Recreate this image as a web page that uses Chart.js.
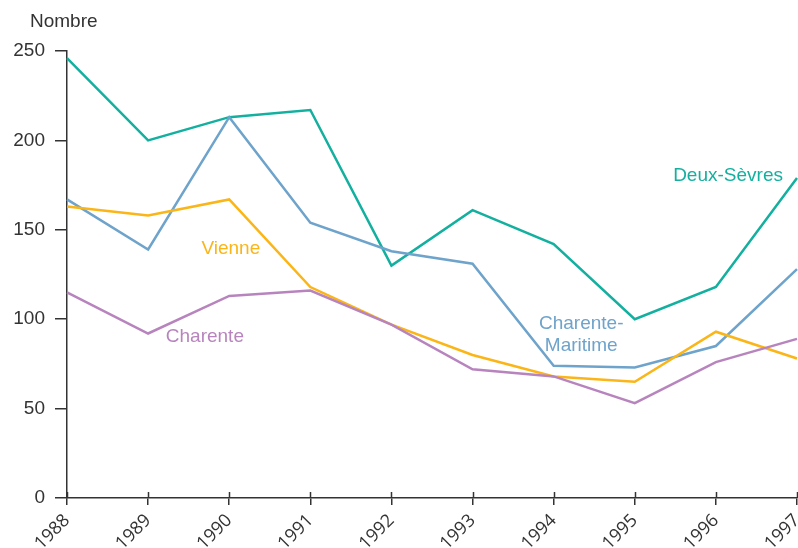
<!DOCTYPE html>
<html>
<head>
<meta charset="utf-8">
<script src="https://cdn.jsdelivr.net/npm/chart.js"></script>
<style>
  html, body { margin: 0; padding: 0; background: #fff; }
  #wrap { width: 798px; height: 548px; }
</style>
</head>
<body>
<div id="wrap"><canvas id="chart" width="798" height="548"></canvas></div>
<script>
// ===== Données =====
const years = ['1988','1989','1990','1991','1992','1993','1994','1995','1996','1997'];
const deuxSevres = [246, 200, 213, 217, 130, 161, 142, 100, 118, 179];
const charenteMaritime = [167, 139, 213, 154, 138, 131, 74, 73, 85, 128];
const vienne = [163, 158, 167, 118, 97, 80, 68, 65, 93, 78];
const charente = [115, 92, 113, 116, 97, 72, 68, 53, 76, 89];
const yTicks = [0, 50, 100, 150, 200, 250];

const COLORS = {
  deuxSevres: '#14b09f',
  charenteMaritime: '#6ea3cb',
  vienne: '#fbb517',
  charente: '#b884be'
};
const TEXT = '#333333';
const FONT = '"Liberation Sans", Arial, sans-serif';
const FONT_X = '"Open Sans", sans-serif';

// étiquettes de séries (position en coordonnées de données : index d'année, valeur)
const seriesLabels = [
  { lines: ['Deux-Sèvres'], color: COLORS.deuxSevres, at: 8.15, val: 180.5 },
  { lines: ['Charente-', 'Maritime'], color: COLORS.charenteMaritime, at: 6.34, val: 97.5 },
  { lines: ['Vienne'], color: COLORS.vienne, at: 2.02, val: 139.3 },
  { lines: ['Charente'], color: COLORS.charente, at: 1.70, val: 90 }
];

const labelsPlugin = {
  id: 'labelsPlugin',
  afterDraw(chart){
    const { ctx, scales: { x, y } } = chart;
    ctx.save();
    // petites marques au-dessus de l'axe des x
    ctx.strokeStyle = TEXT;
    ctx.lineWidth = 1.5;
    years.forEach((_, i) => {
      const px = Math.round(x.getPixelForValue(i)) + 0.5;
      ctx.beginPath();
      ctx.moveTo(px, y.bottom);
      ctx.lineTo(px, y.bottom - 6);
      ctx.stroke();
    });
    // titre de l'axe
    ctx.fillStyle = TEXT;
    ctx.font = '19px ' + FONT;
    ctx.textAlign = 'left';
    ctx.textBaseline = 'middle';
    ctx.fillText('Nombre', 30, 22);
    // noms des séries
    ctx.textAlign = 'center';
    ctx.font = '19px ' + FONT;
    seriesLabels.forEach(l => {
      const px = x.getPixelForValue(l.at);
      const py = y.getPixelForValue(l.val);
      ctx.fillStyle = l.color;
      l.lines.forEach((t, k) => ctx.fillText(t, px, py + k * 22));
    });
    ctx.restore();
  }
};

function ds(label, data, color){
  return {
    label, data,
    borderColor: color,
    backgroundColor: color,
    borderWidth: 2.5,
    pointRadius: 0,
    tension: 0,
    fill: false
  };
}

new Chart(document.getElementById('chart'), {
  type: 'line',
  data: {
    labels: years,
    datasets: [
      ds('Charente', charente, COLORS.charente),
      ds('Vienne', vienne, COLORS.vienne),
      ds('Charente-Maritime', charenteMaritime, COLORS.charenteMaritime),
      ds('Deux-Sèvres', deuxSevres, COLORS.deuxSevres)
    ]
  },
  options: {
    responsive: false,
    animation: false,
    events: [],
    layout: { autoPadding: false, padding: { top: 51, right: 1, left: 0, bottom: 0 } },
    plugins: { legend: { display: false }, tooltip: { enabled: false } },
    scales: {
      x: {
        offset: false,
        afterFit: s => { s.height = 50; s.paddingLeft = 0; s.paddingRight = 0; },
        grid: { drawOnChartArea: false, drawTicks: true, tickLength: 7, color: TEXT, lineWidth: 1.5 },
        border: { display: true, color: TEXT, width: 1.5 },
        ticks: {
          color: TEXT,
          font: { family: FONT_X, size: 18 },
          maxRotation: 45, minRotation: 45,
          padding: 5,
          autoSkip: false
        }
      },
      y: {
        min: 0, max: 250,
        afterFit: s => { s.width = 67; s.paddingTop = 0; s.paddingBottom = 0; },
        afterBuildTicks: s => { s.ticks = yTicks.map(v => ({ value: v })); },
        grid: { drawOnChartArea: false, drawTicks: true, tickLength: 12, color: TEXT, lineWidth: 1.5 },
        border: { display: true, color: TEXT, width: 1.5 },
        ticks: {
          color: TEXT,
          font: { family: FONT, size: 19 },
          padding: 10
        }
      }
    }
  },
  plugins: [labelsPlugin]
});
</script>
</body>
</html>
